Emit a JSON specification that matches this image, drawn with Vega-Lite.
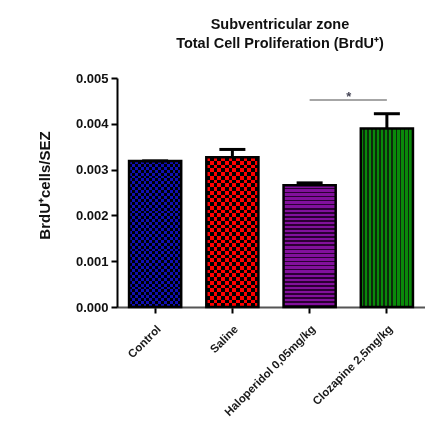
{
  "$schema": "https://vega.github.io/schema/vega-lite/v6.json",
  "autosize": {"type": "none"},
  "width": 308,
  "height": 229,
  "padding": {"left": 117, "top": 78, "right": 0, "bottom": 121},
  "background": "white",
  "config": {
    "view": {"stroke": null},
    "font": "Liberation Sans",
    "axis": {"grid": false}
  },
  "title": {
    "text": ["Subventricular zone", "Total Cell Proliferation (BrdU⁺)"],
    "fontSize": 14.5,
    "fontWeight": "bold",
    "lineHeight": 19,
    "anchor": "middle",
    "offset": 21,
    "dx": 9,
    "color": "#111"
  },
  "datasets": {
    "bars": [
      {"group": "Control", "value": 0.00319, "upper": 0.00319},
      {"group": "Saline", "value": 0.00327, "upper": 0.00344},
      {"group": "Haloperidol 0,05mg/kg", "value": 0.00266, "upper": 0.00271},
      {"group": "Clozapine 2,5mg/kg", "value": 0.0039, "upper": 0.00422}
    ],
    "sig": [
      {"from": "Haloperidol 0,05mg/kg", "to": "Clozapine 2,5mg/kg", "y": 0.00452, "ystar": 0.00459}
    ]
  },
  "data": {"name": "bars"},
  "encoding": {
    "x": {
      "field": "group",
      "type": "nominal",
      "sort": null,
      "scale": {
        "domain": ["Control", "Saline", "Haloperidol 0,05mg/kg", "Clozapine 2,5mg/kg"],
        "paddingInner": 0.325,
        "paddingOuter": 0.156
      },
      "axis": {
        "title": null,
        "labelAngle": -45,
        "labelFontSize": 11.5,
        "labelFontWeight": "bold",
        "labelColor": "#1a1a1a",
        "labelPadding": 10,
        "domainColor": "#555",
        "domainWidth": 2,
        "tickColor": "#000",
        "tickWidth": 2,
        "tickSize": 6
      }
    },
    "y": {
      "field": "value",
      "type": "quantitative",
      "scale": {"domain": [0, 0.005], "nice": false},
      "axis": {
        "title": "BrdU⁺cells/SEZ",
        "titleFontSize": 15,
        "titleFontWeight": "bold",
        "titleColor": "#111",
        "titlePadding": 23,
        "titleY": 107,
        "values": [0, 0.001, 0.002, 0.003, 0.004, 0.005],
        "format": ".3f",
        "labelFontSize": 13,
        "labelFontWeight": "bold",
        "labelColor": "#111",
        "labelPadding": 3,
        "domainColor": "#000",
        "domainWidth": 2,
        "tickColor": "#000",
        "tickWidth": 2,
        "tickSize": 6
      }
    }
  },
  "layer": [
    {
      "transform": [{"filter": "datum.group == 'Control'"}],
      "mark": {"type": "bar", "fill": {"gradient": "linear", "x1": 0, "y1": 0, "x2": 1, "y2": 0, "stops": [
        {"offset": 0, "color": "#1010b4"}, {"offset": 0.0556, "color": "#1010b4"}, {"offset": 0.0556, "color": "#000000"}, {"offset": 0.1111, "color": "#000000"},
        {"offset": 0.1111, "color": "#1010b4"}, {"offset": 0.1667, "color": "#1010b4"}, {"offset": 0.1667, "color": "#000000"}, {"offset": 0.2222, "color": "#000000"},
        {"offset": 0.2222, "color": "#1010b4"}, {"offset": 0.2778, "color": "#1010b4"}, {"offset": 0.2778, "color": "#000000"}, {"offset": 0.3333, "color": "#000000"},
        {"offset": 0.3333, "color": "#1010b4"}, {"offset": 0.3889, "color": "#1010b4"}, {"offset": 0.3889, "color": "#000000"}, {"offset": 0.4444, "color": "#000000"},
        {"offset": 0.4444, "color": "#1010b4"}, {"offset": 0.5, "color": "#1010b4"}, {"offset": 0.5, "color": "#000000"}, {"offset": 0.5556, "color": "#000000"},
        {"offset": 0.5556, "color": "#1010b4"}, {"offset": 0.6111, "color": "#1010b4"}, {"offset": 0.6111, "color": "#000000"}, {"offset": 0.6667, "color": "#000000"},
        {"offset": 0.6667, "color": "#1010b4"}, {"offset": 0.7222, "color": "#1010b4"}, {"offset": 0.7222, "color": "#000000"}, {"offset": 0.7778, "color": "#000000"},
        {"offset": 0.7778, "color": "#1010b4"}, {"offset": 0.8333, "color": "#1010b4"}, {"offset": 0.8333, "color": "#000000"}, {"offset": 0.8889, "color": "#000000"},
        {"offset": 0.8889, "color": "#1010b4"}, {"offset": 0.9444, "color": "#1010b4"}, {"offset": 0.9444, "color": "#000000"}, {"offset": 1, "color": "#000000"}
      ]}}
    },
    {
      "transform": [{"filter": "datum.group == 'Control'"}],
      "mark": {"type": "bar", "blend": "difference", "fill": {"gradient": "linear", "x1": 0, "y1": 0, "x2": 0, "y2": 1, "stops": [
        {"offset": 0, "color": "rgba(0,0,0,0)"}, {"offset": 0.02, "color": "rgba(0,0,0,0)"}, {"offset": 0.02, "color": "#1010b4"}, {"offset": 0.04, "color": "#1010b4"},
        {"offset": 0.04, "color": "rgba(0,0,0,0)"}, {"offset": 0.06, "color": "rgba(0,0,0,0)"}, {"offset": 0.06, "color": "#1010b4"}, {"offset": 0.08, "color": "#1010b4"},
        {"offset": 0.08, "color": "rgba(0,0,0,0)"}, {"offset": 0.1, "color": "rgba(0,0,0,0)"}, {"offset": 0.1, "color": "#1010b4"}, {"offset": 0.12, "color": "#1010b4"},
        {"offset": 0.12, "color": "rgba(0,0,0,0)"}, {"offset": 0.14, "color": "rgba(0,0,0,0)"}, {"offset": 0.14, "color": "#1010b4"}, {"offset": 0.16, "color": "#1010b4"},
        {"offset": 0.16, "color": "rgba(0,0,0,0)"}, {"offset": 0.18, "color": "rgba(0,0,0,0)"}, {"offset": 0.18, "color": "#1010b4"}, {"offset": 0.2, "color": "#1010b4"},
        {"offset": 0.2, "color": "rgba(0,0,0,0)"}, {"offset": 0.22, "color": "rgba(0,0,0,0)"}, {"offset": 0.22, "color": "#1010b4"}, {"offset": 0.24, "color": "#1010b4"},
        {"offset": 0.24, "color": "rgba(0,0,0,0)"}, {"offset": 0.26, "color": "rgba(0,0,0,0)"}, {"offset": 0.26, "color": "#1010b4"}, {"offset": 0.28, "color": "#1010b4"},
        {"offset": 0.28, "color": "rgba(0,0,0,0)"}, {"offset": 0.3, "color": "rgba(0,0,0,0)"}, {"offset": 0.3, "color": "#1010b4"}, {"offset": 0.32, "color": "#1010b4"},
        {"offset": 0.32, "color": "rgba(0,0,0,0)"}, {"offset": 0.34, "color": "rgba(0,0,0,0)"}, {"offset": 0.34, "color": "#1010b4"}, {"offset": 0.36, "color": "#1010b4"},
        {"offset": 0.36, "color": "rgba(0,0,0,0)"}, {"offset": 0.38, "color": "rgba(0,0,0,0)"}, {"offset": 0.38, "color": "#1010b4"}, {"offset": 0.4, "color": "#1010b4"},
        {"offset": 0.4, "color": "rgba(0,0,0,0)"}, {"offset": 0.42, "color": "rgba(0,0,0,0)"}, {"offset": 0.42, "color": "#1010b4"}, {"offset": 0.44, "color": "#1010b4"},
        {"offset": 0.44, "color": "rgba(0,0,0,0)"}, {"offset": 0.46, "color": "rgba(0,0,0,0)"}, {"offset": 0.46, "color": "#1010b4"}, {"offset": 0.48, "color": "#1010b4"},
        {"offset": 0.48, "color": "rgba(0,0,0,0)"}, {"offset": 0.5, "color": "rgba(0,0,0,0)"}, {"offset": 0.5, "color": "#1010b4"}, {"offset": 0.52, "color": "#1010b4"},
        {"offset": 0.52, "color": "rgba(0,0,0,0)"}, {"offset": 0.54, "color": "rgba(0,0,0,0)"}, {"offset": 0.54, "color": "#1010b4"}, {"offset": 0.56, "color": "#1010b4"},
        {"offset": 0.56, "color": "rgba(0,0,0,0)"}, {"offset": 0.58, "color": "rgba(0,0,0,0)"}, {"offset": 0.58, "color": "#1010b4"}, {"offset": 0.6, "color": "#1010b4"},
        {"offset": 0.6, "color": "rgba(0,0,0,0)"}, {"offset": 0.62, "color": "rgba(0,0,0,0)"}, {"offset": 0.62, "color": "#1010b4"}, {"offset": 0.64, "color": "#1010b4"},
        {"offset": 0.64, "color": "rgba(0,0,0,0)"}, {"offset": 0.66, "color": "rgba(0,0,0,0)"}, {"offset": 0.66, "color": "#1010b4"}, {"offset": 0.68, "color": "#1010b4"},
        {"offset": 0.68, "color": "rgba(0,0,0,0)"}, {"offset": 0.7, "color": "rgba(0,0,0,0)"}, {"offset": 0.7, "color": "#1010b4"}, {"offset": 0.72, "color": "#1010b4"},
        {"offset": 0.72, "color": "rgba(0,0,0,0)"}, {"offset": 0.74, "color": "rgba(0,0,0,0)"}, {"offset": 0.74, "color": "#1010b4"}, {"offset": 0.76, "color": "#1010b4"},
        {"offset": 0.76, "color": "rgba(0,0,0,0)"}, {"offset": 0.78, "color": "rgba(0,0,0,0)"}, {"offset": 0.78, "color": "#1010b4"}, {"offset": 0.8, "color": "#1010b4"},
        {"offset": 0.8, "color": "rgba(0,0,0,0)"}, {"offset": 0.82, "color": "rgba(0,0,0,0)"}, {"offset": 0.82, "color": "#1010b4"}, {"offset": 0.84, "color": "#1010b4"},
        {"offset": 0.84, "color": "rgba(0,0,0,0)"}, {"offset": 0.86, "color": "rgba(0,0,0,0)"}, {"offset": 0.86, "color": "#1010b4"}, {"offset": 0.88, "color": "#1010b4"},
        {"offset": 0.88, "color": "rgba(0,0,0,0)"}, {"offset": 0.9, "color": "rgba(0,0,0,0)"}, {"offset": 0.9, "color": "#1010b4"}, {"offset": 0.92, "color": "#1010b4"},
        {"offset": 0.92, "color": "rgba(0,0,0,0)"}, {"offset": 0.94, "color": "rgba(0,0,0,0)"}, {"offset": 0.94, "color": "#1010b4"}, {"offset": 0.96, "color": "#1010b4"},
        {"offset": 0.96, "color": "rgba(0,0,0,0)"}, {"offset": 0.98, "color": "rgba(0,0,0,0)"}, {"offset": 0.98, "color": "#1010b4"}, {"offset": 1, "color": "#1010b4"}
      ]}}
    },
    {
      "transform": [{"filter": "datum.group == 'Saline'"}],
      "mark": {"type": "bar", "fill": {"gradient": "linear", "x1": 0, "y1": 0, "x2": 1, "y2": 0, "stops": [
        {"offset": 0, "color": "#ff0000"}, {"offset": 0.0714, "color": "#ff0000"}, {"offset": 0.0714, "color": "#000000"}, {"offset": 0.1429, "color": "#000000"},
        {"offset": 0.1429, "color": "#ff0000"}, {"offset": 0.2143, "color": "#ff0000"}, {"offset": 0.2143, "color": "#000000"}, {"offset": 0.2857, "color": "#000000"},
        {"offset": 0.2857, "color": "#ff0000"}, {"offset": 0.3571, "color": "#ff0000"}, {"offset": 0.3571, "color": "#000000"}, {"offset": 0.4286, "color": "#000000"},
        {"offset": 0.4286, "color": "#ff0000"}, {"offset": 0.5, "color": "#ff0000"}, {"offset": 0.5, "color": "#000000"}, {"offset": 0.5714, "color": "#000000"},
        {"offset": 0.5714, "color": "#ff0000"}, {"offset": 0.6429, "color": "#ff0000"}, {"offset": 0.6429, "color": "#000000"}, {"offset": 0.7143, "color": "#000000"},
        {"offset": 0.7143, "color": "#ff0000"}, {"offset": 0.7857, "color": "#ff0000"}, {"offset": 0.7857, "color": "#000000"}, {"offset": 0.8571, "color": "#000000"},
        {"offset": 0.8571, "color": "#ff0000"}, {"offset": 0.9286, "color": "#ff0000"}, {"offset": 0.9286, "color": "#000000"}, {"offset": 1, "color": "#000000"}
      ]}}
    },
    {
      "transform": [{"filter": "datum.group == 'Saline'"}],
      "mark": {"type": "bar", "blend": "difference", "fill": {"gradient": "linear", "x1": 0, "y1": 0, "x2": 0, "y2": 1, "stops": [
        {"offset": 0, "color": "rgba(0,0,0,0)"}, {"offset": 0.025, "color": "rgba(0,0,0,0)"}, {"offset": 0.025, "color": "#ff0000"}, {"offset": 0.05, "color": "#ff0000"},
        {"offset": 0.05, "color": "rgba(0,0,0,0)"}, {"offset": 0.075, "color": "rgba(0,0,0,0)"}, {"offset": 0.075, "color": "#ff0000"}, {"offset": 0.1, "color": "#ff0000"},
        {"offset": 0.1, "color": "rgba(0,0,0,0)"}, {"offset": 0.125, "color": "rgba(0,0,0,0)"}, {"offset": 0.125, "color": "#ff0000"}, {"offset": 0.15, "color": "#ff0000"},
        {"offset": 0.15, "color": "rgba(0,0,0,0)"}, {"offset": 0.175, "color": "rgba(0,0,0,0)"}, {"offset": 0.175, "color": "#ff0000"}, {"offset": 0.2, "color": "#ff0000"},
        {"offset": 0.2, "color": "rgba(0,0,0,0)"}, {"offset": 0.225, "color": "rgba(0,0,0,0)"}, {"offset": 0.225, "color": "#ff0000"}, {"offset": 0.25, "color": "#ff0000"},
        {"offset": 0.25, "color": "rgba(0,0,0,0)"}, {"offset": 0.275, "color": "rgba(0,0,0,0)"}, {"offset": 0.275, "color": "#ff0000"}, {"offset": 0.3, "color": "#ff0000"},
        {"offset": 0.3, "color": "rgba(0,0,0,0)"}, {"offset": 0.325, "color": "rgba(0,0,0,0)"}, {"offset": 0.325, "color": "#ff0000"}, {"offset": 0.35, "color": "#ff0000"},
        {"offset": 0.35, "color": "rgba(0,0,0,0)"}, {"offset": 0.375, "color": "rgba(0,0,0,0)"}, {"offset": 0.375, "color": "#ff0000"}, {"offset": 0.4, "color": "#ff0000"},
        {"offset": 0.4, "color": "rgba(0,0,0,0)"}, {"offset": 0.425, "color": "rgba(0,0,0,0)"}, {"offset": 0.425, "color": "#ff0000"}, {"offset": 0.45, "color": "#ff0000"},
        {"offset": 0.45, "color": "rgba(0,0,0,0)"}, {"offset": 0.475, "color": "rgba(0,0,0,0)"}, {"offset": 0.475, "color": "#ff0000"}, {"offset": 0.5, "color": "#ff0000"},
        {"offset": 0.5, "color": "rgba(0,0,0,0)"}, {"offset": 0.525, "color": "rgba(0,0,0,0)"}, {"offset": 0.525, "color": "#ff0000"}, {"offset": 0.55, "color": "#ff0000"},
        {"offset": 0.55, "color": "rgba(0,0,0,0)"}, {"offset": 0.575, "color": "rgba(0,0,0,0)"}, {"offset": 0.575, "color": "#ff0000"}, {"offset": 0.6, "color": "#ff0000"},
        {"offset": 0.6, "color": "rgba(0,0,0,0)"}, {"offset": 0.625, "color": "rgba(0,0,0,0)"}, {"offset": 0.625, "color": "#ff0000"}, {"offset": 0.65, "color": "#ff0000"},
        {"offset": 0.65, "color": "rgba(0,0,0,0)"}, {"offset": 0.675, "color": "rgba(0,0,0,0)"}, {"offset": 0.675, "color": "#ff0000"}, {"offset": 0.7, "color": "#ff0000"},
        {"offset": 0.7, "color": "rgba(0,0,0,0)"}, {"offset": 0.725, "color": "rgba(0,0,0,0)"}, {"offset": 0.725, "color": "#ff0000"}, {"offset": 0.75, "color": "#ff0000"},
        {"offset": 0.75, "color": "rgba(0,0,0,0)"}, {"offset": 0.775, "color": "rgba(0,0,0,0)"}, {"offset": 0.775, "color": "#ff0000"}, {"offset": 0.8, "color": "#ff0000"},
        {"offset": 0.8, "color": "rgba(0,0,0,0)"}, {"offset": 0.825, "color": "rgba(0,0,0,0)"}, {"offset": 0.825, "color": "#ff0000"}, {"offset": 0.85, "color": "#ff0000"},
        {"offset": 0.85, "color": "rgba(0,0,0,0)"}, {"offset": 0.875, "color": "rgba(0,0,0,0)"}, {"offset": 0.875, "color": "#ff0000"}, {"offset": 0.9, "color": "#ff0000"},
        {"offset": 0.9, "color": "rgba(0,0,0,0)"}, {"offset": 0.925, "color": "rgba(0,0,0,0)"}, {"offset": 0.925, "color": "#ff0000"}, {"offset": 0.95, "color": "#ff0000"},
        {"offset": 0.95, "color": "rgba(0,0,0,0)"}, {"offset": 0.975, "color": "rgba(0,0,0,0)"}, {"offset": 0.975, "color": "#ff0000"}, {"offset": 1, "color": "#ff0000"}
      ]}}
    },
    {
      "transform": [{"filter": "datum.group == 'Haloperidol 0,05mg/kg'"}],
      "mark": {"type": "bar", "fill": {"gradient": "linear", "x1": 0, "y1": 0, "x2": 0, "y2": 1, "stops": [
        {"offset": 0, "color": "#82109c"}, {"offset": 0.02, "color": "#82109c"}, {"offset": 0.02, "color": "#2b0033"}, {"offset": 0.0333, "color": "#2b0033"},
        {"offset": 0.0333, "color": "#82109c"}, {"offset": 0.0533, "color": "#82109c"}, {"offset": 0.0533, "color": "#2b0033"}, {"offset": 0.0667, "color": "#2b0033"},
        {"offset": 0.0667, "color": "#82109c"}, {"offset": 0.0867, "color": "#82109c"}, {"offset": 0.0867, "color": "#2b0033"}, {"offset": 0.1, "color": "#2b0033"},
        {"offset": 0.1, "color": "#82109c"}, {"offset": 0.12, "color": "#82109c"}, {"offset": 0.12, "color": "#2b0033"}, {"offset": 0.1333, "color": "#2b0033"},
        {"offset": 0.1333, "color": "#82109c"}, {"offset": 0.1533, "color": "#82109c"}, {"offset": 0.1533, "color": "#2b0033"}, {"offset": 0.1667, "color": "#2b0033"},
        {"offset": 0.1667, "color": "#82109c"}, {"offset": 0.1867, "color": "#82109c"}, {"offset": 0.1867, "color": "#2b0033"}, {"offset": 0.2, "color": "#2b0033"},
        {"offset": 0.2, "color": "#82109c"}, {"offset": 0.22, "color": "#82109c"}, {"offset": 0.22, "color": "#2b0033"}, {"offset": 0.2333, "color": "#2b0033"},
        {"offset": 0.2333, "color": "#82109c"}, {"offset": 0.2533, "color": "#82109c"}, {"offset": 0.2533, "color": "#2b0033"}, {"offset": 0.2667, "color": "#2b0033"},
        {"offset": 0.2667, "color": "#82109c"}, {"offset": 0.2867, "color": "#82109c"}, {"offset": 0.2867, "color": "#2b0033"}, {"offset": 0.3, "color": "#2b0033"},
        {"offset": 0.3, "color": "#82109c"}, {"offset": 0.32, "color": "#82109c"}, {"offset": 0.32, "color": "#2b0033"}, {"offset": 0.3333, "color": "#2b0033"},
        {"offset": 0.3333, "color": "#82109c"}, {"offset": 0.3533, "color": "#82109c"}, {"offset": 0.3533, "color": "#2b0033"}, {"offset": 0.3667, "color": "#2b0033"},
        {"offset": 0.3667, "color": "#82109c"}, {"offset": 0.3867, "color": "#82109c"}, {"offset": 0.3867, "color": "#2b0033"}, {"offset": 0.4, "color": "#2b0033"},
        {"offset": 0.4, "color": "#82109c"}, {"offset": 0.42, "color": "#82109c"}, {"offset": 0.42, "color": "#2b0033"}, {"offset": 0.4333, "color": "#2b0033"},
        {"offset": 0.4333, "color": "#82109c"}, {"offset": 0.4533, "color": "#82109c"}, {"offset": 0.4533, "color": "#2b0033"}, {"offset": 0.4667, "color": "#2b0033"},
        {"offset": 0.4667, "color": "#82109c"}, {"offset": 0.4867, "color": "#82109c"}, {"offset": 0.4867, "color": "#2b0033"}, {"offset": 0.5, "color": "#2b0033"},
        {"offset": 0.5, "color": "#82109c"}, {"offset": 0.52, "color": "#82109c"}, {"offset": 0.52, "color": "#2b0033"}, {"offset": 0.5333, "color": "#2b0033"},
        {"offset": 0.5333, "color": "#82109c"}, {"offset": 0.5533, "color": "#82109c"}, {"offset": 0.5533, "color": "#2b0033"}, {"offset": 0.5667, "color": "#2b0033"},
        {"offset": 0.5667, "color": "#82109c"}, {"offset": 0.5867, "color": "#82109c"}, {"offset": 0.5867, "color": "#2b0033"}, {"offset": 0.6, "color": "#2b0033"},
        {"offset": 0.6, "color": "#82109c"}, {"offset": 0.62, "color": "#82109c"}, {"offset": 0.62, "color": "#2b0033"}, {"offset": 0.6333, "color": "#2b0033"},
        {"offset": 0.6333, "color": "#82109c"}, {"offset": 0.6533, "color": "#82109c"}, {"offset": 0.6533, "color": "#2b0033"}, {"offset": 0.6667, "color": "#2b0033"},
        {"offset": 0.6667, "color": "#82109c"}, {"offset": 0.6867, "color": "#82109c"}, {"offset": 0.6867, "color": "#2b0033"}, {"offset": 0.7, "color": "#2b0033"},
        {"offset": 0.7, "color": "#82109c"}, {"offset": 0.72, "color": "#82109c"}, {"offset": 0.72, "color": "#2b0033"}, {"offset": 0.7333, "color": "#2b0033"},
        {"offset": 0.7333, "color": "#82109c"}, {"offset": 0.7533, "color": "#82109c"}, {"offset": 0.7533, "color": "#2b0033"}, {"offset": 0.7667, "color": "#2b0033"},
        {"offset": 0.7667, "color": "#82109c"}, {"offset": 0.7867, "color": "#82109c"}, {"offset": 0.7867, "color": "#2b0033"}, {"offset": 0.8, "color": "#2b0033"},
        {"offset": 0.8, "color": "#82109c"}, {"offset": 0.82, "color": "#82109c"}, {"offset": 0.82, "color": "#2b0033"}, {"offset": 0.8333, "color": "#2b0033"},
        {"offset": 0.8333, "color": "#82109c"}, {"offset": 0.8533, "color": "#82109c"}, {"offset": 0.8533, "color": "#2b0033"}, {"offset": 0.8667, "color": "#2b0033"},
        {"offset": 0.8667, "color": "#82109c"}, {"offset": 0.8867, "color": "#82109c"}, {"offset": 0.8867, "color": "#2b0033"}, {"offset": 0.9, "color": "#2b0033"},
        {"offset": 0.9, "color": "#82109c"}, {"offset": 0.92, "color": "#82109c"}, {"offset": 0.92, "color": "#2b0033"}, {"offset": 0.9333, "color": "#2b0033"},
        {"offset": 0.9333, "color": "#82109c"}, {"offset": 0.9533, "color": "#82109c"}, {"offset": 0.9533, "color": "#2b0033"}, {"offset": 0.9667, "color": "#2b0033"},
        {"offset": 0.9667, "color": "#82109c"}, {"offset": 0.9867, "color": "#82109c"}, {"offset": 0.9867, "color": "#2b0033"}, {"offset": 1, "color": "#2b0033"}
      ]}}
    },
    {
      "transform": [{"filter": "datum.group == 'Clozapine 2,5mg/kg'"}],
      "mark": {"type": "bar", "fill": {"gradient": "linear", "x1": 0, "y1": 0, "x2": 1, "y2": 0, "stops": [
        {"offset": 0, "color": "#0a8a0a"}, {"offset": 0.05, "color": "#0a8a0a"}, {"offset": 0.05, "color": "#0d2a0d"}, {"offset": 0.0769, "color": "#0d2a0d"},
        {"offset": 0.0769, "color": "#0a8a0a"}, {"offset": 0.1269, "color": "#0a8a0a"}, {"offset": 0.1269, "color": "#0d2a0d"}, {"offset": 0.1538, "color": "#0d2a0d"},
        {"offset": 0.1538, "color": "#0a8a0a"}, {"offset": 0.2038, "color": "#0a8a0a"}, {"offset": 0.2038, "color": "#0d2a0d"}, {"offset": 0.2308, "color": "#0d2a0d"},
        {"offset": 0.2308, "color": "#0a8a0a"}, {"offset": 0.2808, "color": "#0a8a0a"}, {"offset": 0.2808, "color": "#0d2a0d"}, {"offset": 0.3077, "color": "#0d2a0d"},
        {"offset": 0.3077, "color": "#0a8a0a"}, {"offset": 0.3577, "color": "#0a8a0a"}, {"offset": 0.3577, "color": "#0d2a0d"}, {"offset": 0.3846, "color": "#0d2a0d"},
        {"offset": 0.3846, "color": "#0a8a0a"}, {"offset": 0.4346, "color": "#0a8a0a"}, {"offset": 0.4346, "color": "#0d2a0d"}, {"offset": 0.4615, "color": "#0d2a0d"},
        {"offset": 0.4615, "color": "#0a8a0a"}, {"offset": 0.5115, "color": "#0a8a0a"}, {"offset": 0.5115, "color": "#0d2a0d"}, {"offset": 0.5385, "color": "#0d2a0d"},
        {"offset": 0.5385, "color": "#0a8a0a"}, {"offset": 0.5885, "color": "#0a8a0a"}, {"offset": 0.5885, "color": "#0d2a0d"}, {"offset": 0.6154, "color": "#0d2a0d"},
        {"offset": 0.6154, "color": "#0a8a0a"}, {"offset": 0.6654, "color": "#0a8a0a"}, {"offset": 0.6654, "color": "#0d2a0d"}, {"offset": 0.6923, "color": "#0d2a0d"},
        {"offset": 0.6923, "color": "#0a8a0a"}, {"offset": 0.7423, "color": "#0a8a0a"}, {"offset": 0.7423, "color": "#0d2a0d"}, {"offset": 0.7692, "color": "#0d2a0d"},
        {"offset": 0.7692, "color": "#0a8a0a"}, {"offset": 0.8192, "color": "#0a8a0a"}, {"offset": 0.8192, "color": "#0d2a0d"}, {"offset": 0.8462, "color": "#0d2a0d"},
        {"offset": 0.8462, "color": "#0a8a0a"}, {"offset": 0.8962, "color": "#0a8a0a"}, {"offset": 0.8962, "color": "#0d2a0d"}, {"offset": 0.9231, "color": "#0d2a0d"},
        {"offset": 0.9231, "color": "#0a8a0a"}, {"offset": 0.9731, "color": "#0a8a0a"}, {"offset": 0.9731, "color": "#0d2a0d"}, {"offset": 1, "color": "#0d2a0d"}
      ]}}
    },
    {
      "mark": {"type": "bar", "fillOpacity": 0, "stroke": "#000", "strokeWidth": 2.5}
    },
    {
      "mark": {"type": "rule", "stroke": "#000", "strokeWidth": 3},
      "encoding": {"y2": {"field": "upper"}}
    },
    {
      "mark": {"type": "tick", "orient": "horizontal", "color": "#000", "size": 26, "thickness": 3, "opacity": 1},
      "encoding": {"y": {"field": "upper", "type": "quantitative"}}
    },
    {
      "data": {"name": "sig"},
      "mark": {"type": "rule", "stroke": "#888", "strokeWidth": 1.5},
      "encoding": {
        "x": {"field": "from", "type": "nominal"},
        "x2": {"field": "to"},
        "y": {"field": "y", "type": "quantitative"}
      }
    },
    {
      "data": {"name": "sig"},
      "mark": {"type": "text", "text": "*", "fontSize": 13, "fontWeight": "bold", "color": "#445", "baseline": "middle", "align": "center"},
      "encoding": {
        "x": {"field": "from", "type": "nominal", "bandPosition": 1.25},
        "y": {"field": "ystar", "type": "quantitative"}
      }
    }
  ]
}
